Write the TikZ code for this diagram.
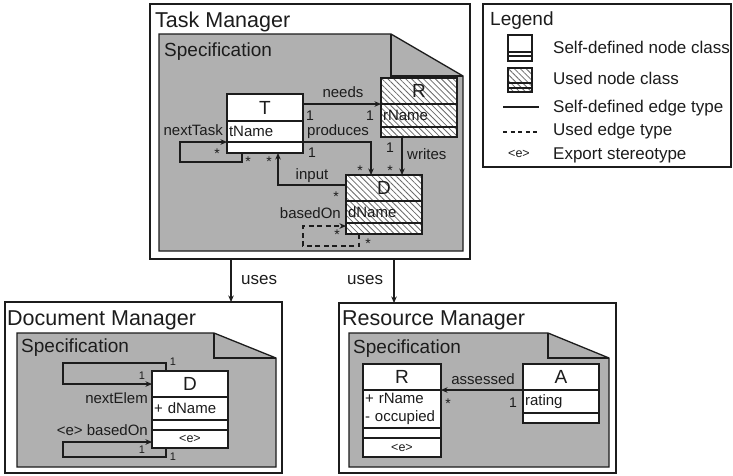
\documentclass[tikz,border=0pt]{standalone}
\usepackage{fontspec}
\setmainfont{Liberation Sans}
\usetikzlibrary{arrows.meta,patterns.meta}

\definecolor{ink}{RGB}{28,28,28}
\definecolor{specgray}{RGB}{176,176,176}
\definecolor{hatchgray}{RGB}{105,105,105}

\tikzset{
  pkg/.style={draw=ink, line width=1.3pt, fill=white, anchor=north west, inner sep=0pt, outer sep=0pt},
  spec/.style={draw=ink, line width=1.3pt, fill=specgray, line join=miter},
  cell/.style={draw=ink, line width=1.4pt, fill=white, anchor=north west, inner sep=0pt, outer sep=0pt, minimum width=76pt, text=ink},
  namecell/.style={cell, font=\fontsize{19}{22}\selectfont, align=center},
  attrcell/.style={cell, font=\fontsize{15}{18}\selectfont, inner xsep=2pt, text width=72pt, align=left},
  stereocell/.style={cell, font=\fontsize{12.5}{15}\selectfont, align=center},
  used/.style={preaction={fill=white}, pattern={Lines[angle=-45,distance=4.2pt,line width=0.8pt]}, pattern color=hatchgray},
  conn/.style={draw=ink, line width=1.3pt},
  usededge/.style={dash pattern=on 5pt off 3.5pt},
  title/.style={font=\fontsize{21.5}{26}\selectfont, inner sep=0pt, text=ink},
  subtitle/.style={font=\fontsize{19}{23}\selectfont, inner sep=0pt, text=ink},
  lab/.style={font=\fontsize{15}{18}\selectfont, inner sep=0pt, text=ink},
  mult/.style={font=\fontsize{14}{16}\selectfont, inner sep=0pt, text=ink, anchor=base},
  smallmult/.style={font=\fontsize{11}{13}\selectfont, inner sep=0pt, text=ink, anchor=base},
  legtext/.style={font=\fontsize{17}{20}\selectfont, inner sep=0pt, text=ink, anchor=base west},
  icon/.style={draw=ink, line width=1.2pt, fill=white, anchor=north west, inner sep=0pt, outer sep=0pt, minimum width=24pt},
}

\begin{document}
\begin{tikzpicture}[x=1pt, y=-1pt, >={Stealth[length=6.5pt,width=5.5pt]}]
\useasboundingbox (0,0) rectangle (733,475);

% ---------- package frames ----------
\node[pkg, minimum width=320pt, minimum height=255pt] (TM) at (150,4) {};
\node[pkg, minimum width=248pt, minimum height=163pt] (LG) at (483,4) {};
\node[pkg, minimum width=277pt, minimum height=171pt] (DM) at (5,302) {};
\node[pkg, minimum width=277pt, minimum height=170pt] (RM) at (339,303) {};

% ---------- specification notes ----------
\path[spec] (159,34) -- (391,34) -- (463,76) -- (463,251) -- (159,251) -- cycle;
\draw[conn] (391,34) -- (391,76) -- (463,76);
\path[spec] (17,333) -- (214,333) -- (276,358) -- (276,467) -- (17,467) -- cycle;
\draw[conn] (214,333) -- (214,358) -- (276,358);
\path[spec] (349,333) -- (548,333) -- (609,358) -- (609,467) -- (349,467) -- cycle;
\draw[conn] (548,333) -- (548,358) -- (609,358);

% ---------- titles ----------
\node[title, anchor=base west] (tmTitle) at (155,27) {Task Manager};
\node[subtitle, anchor=base west] (tmSpec) at (164,56) {Specification};
\node[title, anchor=base west] (dmTitle) at (7,325) {Document Manager};
\node[subtitle, anchor=base west] (dmSpec) at (21,352) {Specification};
\node[title, anchor=base west] (rmTitle) at (342,325) {Resource Manager};
\node[subtitle, anchor=base west] (rmSpec) at (353,353) {Specification};

% ---------- Task Manager classes ----------
\node[namecell, minimum height=27pt] (Tn) at (227,94) {T};
\node[attrcell, minimum height=21pt] (Ta) at (227,121) {tName};
\node[cell, minimum height=11pt] (To) at (227,142) {};

\node[namecell, used, minimum height=26pt] (Rn) at (381,78) {R};
\node[attrcell, used, minimum height=23pt] (Ra) at (381,104) {rName};
\node[cell, used, minimum height=10pt] (Ro) at (381,127) {};

\node[namecell, used, minimum height=26pt] (Dn) at (346,175) {D};
\node[attrcell, used, minimum height=22pt] (Da) at (346,201) {dName};
\node[cell, used, minimum height=11pt] (Do) at (346,223) {};

% ---------- Task Manager edges ----------
\draw[conn,->] (Tn.east |- Rn.south) -- (Rn.south west);
\draw[conn,->] (Ta.south east) -| ([xshift=25pt]Dn.north west);
\draw[conn,->] ([xshift=21pt]Ro.south west) -- ([xshift=21pt]Ro.south west |- Dn.north);
\draw[conn,->] ([yshift=-10pt]Dn.north west) -| ([xshift=51pt]To.south west);
\draw[conn,->] ([xshift=15pt]To.south west) -- ++(0,9) -| ([xshift=-47pt]Ta.south west) -- (Ta.south west);
\draw[conn,usededge,->] ([xshift=13pt]Do.south west) -- ++(0,12) -| ([xshift=-43pt,yshift=-3pt]Do.north west) -- ([yshift=-3pt]Do.north west);

\node[lab, anchor=base] (needsL) at (343,97) {needs};
\node[mult] (needsA) at (310,120) {1};
\node[mult] (needsB) at (370,120) {1};
\node[lab, anchor=base west] (producesL) at (307,135) {produces};
\node[mult] (producesA) at (312,157) {1};
\node[mult] (producesB) at (360,175) {*};
\node[lab, anchor=base west] (writesL) at (407,159) {writes};
\node[mult] (writesA) at (390,152) {1};
\node[mult] (writesB) at (390,175) {*};
\node[lab, anchor=base east] (nextTaskL) at (223,135) {nextTask};
\node[mult] (nextTaskA) at (217,158) {*};
\node[mult] (nextTaskB) at (248,166) {*};
\node[lab, anchor=base] (inputL) at (312,179) {input};
\node[mult] (inputA) at (269,166) {*};
\node[mult] (inputB) at (336,201) {*};
\node[lab, anchor=base east] (basedOnL) at (341,218) {basedOn};
\node[mult] (basedOnA) at (337,239) {*};
\node[mult] (basedOnB) at (368,248) {*};

% ---------- uses dependencies ----------
\draw[conn,->] ([xshift=-51pt]DM.north east |- TM.south) -- ([xshift=-51pt]DM.north east);
\draw[conn,->] ([xshift=55pt]RM.north west |- TM.south) -- ([xshift=55pt]RM.north west);
\node[legtext] (usesA) at (241,284) {uses};
\node[legtext] (usesB) at (347,284) {uses};

% ---------- Document Manager ----------
\node[namecell, minimum height=26pt] (En) at (152,371) {D};
\node[attrcell, minimum height=23pt] (Ea) at (152,397) {+ dName};
\node[cell, minimum height=10pt] (Eo) at (152,420) {};
\node[stereocell, minimum height=18pt] (Ex) at (152,430) {<e>};

\draw[conn,->] ([xshift=14pt]En.north west) -- ++(0,-8) -| ([xshift=-89pt]En.west) -- (En.west);
\draw[conn,->] ([xshift=14pt]Ex.south west) -- ++(0,9) -| ([xshift=-89pt,yshift=-12pt]Ex.north west) -- ([yshift=-12pt]Ex.north west);

\node[smallmult] (nextElemA) at (173,365) {1};
\node[smallmult] (nextElemB) at (142,379) {1};
\node[lab, anchor=base east] (nextElemL) at (148,403) {nextElem};
\node[lab, anchor=base east] (dmBasedOnL) at (148,435) {<e> basedOn};
\node[smallmult] (dmBasedOnA) at (142,453) {1};
\node[smallmult] (dmBasedOnB) at (173,460) {1};

% ---------- Resource Manager ----------
\node[namecell, minimum width=78pt, minimum height=26pt] (Pn) at (363,364) {R};
\node[attrcell, text width=74pt, minimum height=38pt] (Pa) at (363,390) {+ rName\\- occupied};
\node[cell, minimum width=78pt, minimum height=10pt] (Po) at (363,428) {};
\node[stereocell, minimum width=78pt, minimum height=19pt] (Px) at (363,438) {<e>};

\node[namecell, minimum height=26pt] (An) at (523,364) {A};
\node[attrcell, minimum height=23pt] (Aa) at (523,390) {rating};
\node[cell, minimum height=10pt] (Ao) at (523,413) {};

\draw[conn,->] (An.south west) -- (Pn.south east);
\node[lab, anchor=base] (assessedL) at (483,384) {assessed};
\node[mult] (assessedA) at (448,408) {*};
\node[mult] (assessedB) at (513,407) {1};

% ---------- Legend ----------
\node[subtitle, anchor=base west] (lgTitle) at (490,25) {Legend};

\node[icon, minimum height=17pt] (i1a) at (508,35) {};
\node[icon, minimum height=4pt] (i1b) at (508,52) {};
\node[icon, minimum height=5pt] (i1c) at (508,56) {};
\node[icon, used, minimum height=15pt] (i2a) at (508,68) {};
\node[icon, used, minimum height=5pt] (i2b) at (508,83) {};
\node[icon, used, minimum height=4pt] (i2c) at (508,88) {};
\coordinate (e1a) at (503,107);
\coordinate (e1b) at (539,107);
\coordinate (e2a) at (503,132);
\coordinate (e2b) at (539,132);
\draw[conn, line width=1.1pt] (e1a) -- (e1b);
\draw[conn, line width=1.1pt, dash pattern=on 4pt off 3.6pt] (e2a) -- (e2b);
\node[font=\fontsize{12.5}{15}\selectfont, inner sep=0pt, text=ink, anchor=base] (lgE) at (519,157) {<e>};

\node[legtext] (lg1) at (553,53) {Self-defined node class};
\node[legtext] (lg2) at (553,84) {Used node class};
\node[legtext] (lg3) at (553,112) {Self-defined edge type};
\node[legtext] (lg4) at (553,135) {Used edge type};
\node[legtext] (lg5) at (553,159) {Export stereotype};
\end{tikzpicture}
\end{document}
